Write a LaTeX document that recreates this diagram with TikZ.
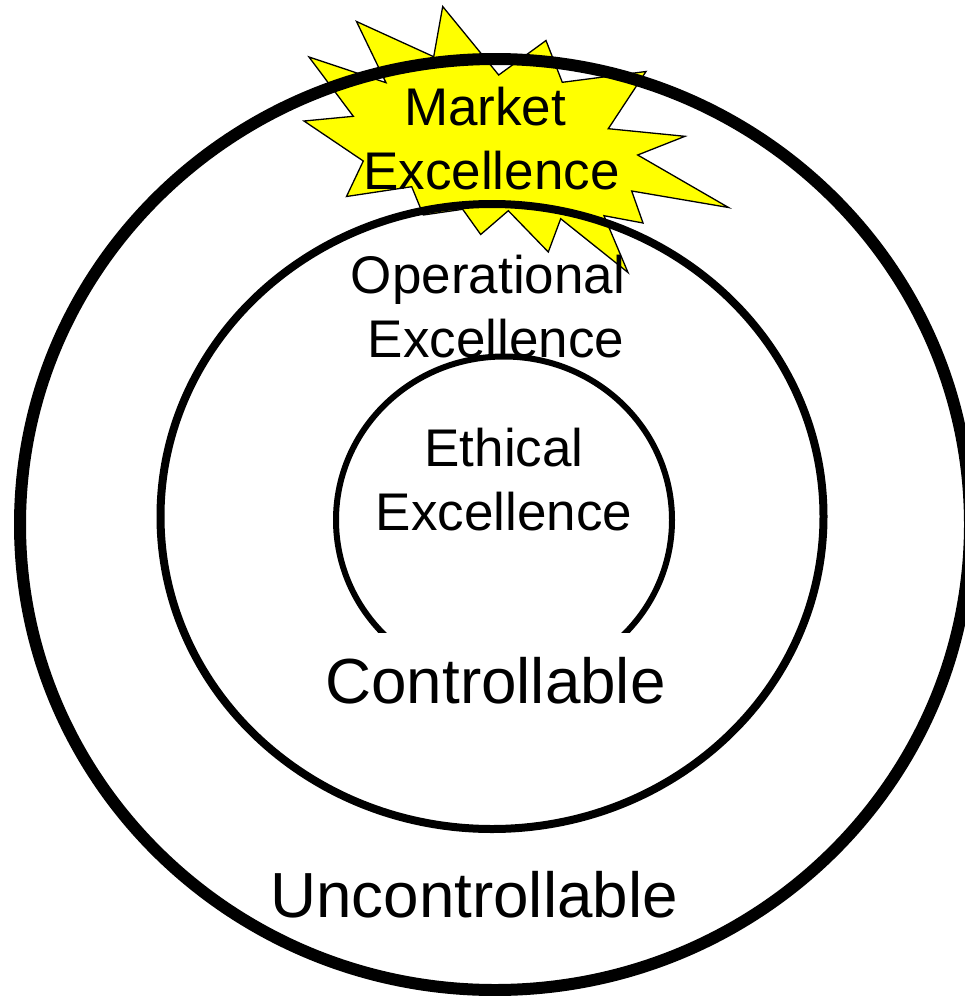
\documentclass[tikz,border=0pt]{standalone}
\usepackage{fontspec}
\setmainfont{Liberation Sans}

\definecolor{burstyellow}{RGB}{255,255,0}

\tikzset{
    ring/.style={draw=black,fill=none},
    burst/.style={draw=black,fill=burstyellow,line width=1.3bp,line join=miter},
    smalltext/.style={anchor=base,inner sep=0pt,font=\fontsize{53.2}{64}\selectfont},
    bigtext/.style={anchor=base,inner sep=0pt,font=\fontsize{64}{76}\selectfont}
}

\begin{document}
\begin{tikzpicture}[x=1bp,y=-1bp]

        \useasboundingbox (0,0) rectangle (965,996);

        \draw[burst] (442.7,6.5) -- (498.7,75) -- (546,40.5) -- (562.3,82.3) -- (646,71.5)
            -- (608.3,128.7) -- (685,136.3) -- (637.7,155) -- (728.5,207.5) -- (631.7,191)
            -- (643,223) -- (604,215.7) -- (628,272.5) -- (560.7,218.7) -- (548.3,252)
            -- (508.3,210.7) -- (480.7,234.5) -- (462.7,209.3) -- (423.3,215) -- (411.7,186.7)
            -- (346.5,196.5) -- (363.3,161) -- (304,121) -- (353.3,116.3) -- (309,57)
            -- (386,82.7) -- (356.5,21.5) -- (433.7,56.7) -- cycle;

        \draw[ring,line width=12bp] (495,524.5) ellipse [x radius=475,y radius=465.5];
        \draw[ring,line width=8bp] (492,516.5) ellipse [x radius=331.5,y radius=312.5];

        \begin{scope}
            \clip (300,340) rectangle (700,632);
            \draw[ring,line width=6bp] (504,520) ellipse [x radius=168,y radius=163.5];
        \end{scope}

        \node[smalltext] (market) at (485,125.5) {Market};
        \node[smalltext] (marketex) at (491.5,189.5) {Excellence};
        \node[smalltext] (oper) at (488,293.5) {Operational};
        \node[smalltext] (operex) at (496,357.5) {Excellence};
        \node[smalltext] (ethic) at (504,466) {Ethical};
        \node[smalltext] (ethicex) at (504,530) {Excellence};
        \node[bigtext] (ctrl) at (495.5,703) {Controllable};
        \node[bigtext] (unctrl) at (474,917) {Uncontrollable};

    \end{tikzpicture}
\end{document}
